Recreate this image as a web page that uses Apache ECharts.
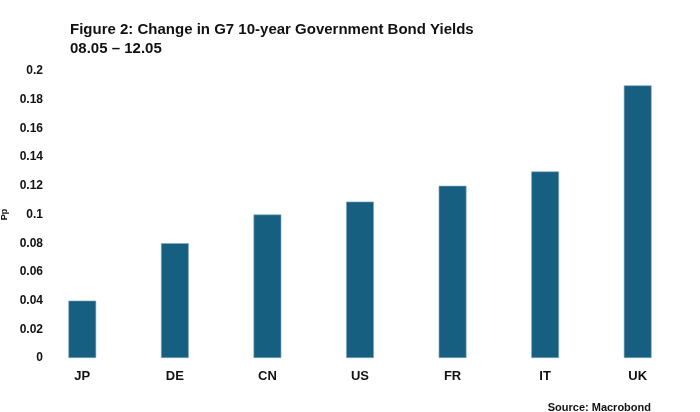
<!DOCTYPE html>
<html>
<head>
<meta charset="utf-8">
<script src="https://cdn.jsdelivr.net/npm/echarts@6/dist/echarts.min.js"></script>
<style>
  html, body { margin: 0; padding: 0; background: #fff; }
  #chart { width: 700px; height: 412px; }
</style>
</head>
<body>
<div id="chart"></div>
<script>
// country codes along the x axis
var countries = ["JP", "DE", "CN", "US", "FR", "IT", "UK"];
// change in 10y yield, percentage points
var changes = [0.04, 0.08, 0.10, 0.109, 0.12, 0.13, 0.19];
// y axis range
var yMin = 0, yMax = 0.2, yStep = 0.02;

var FONT = "Liberation Sans";

var chart = echarts.init(document.getElementById("chart"));

chart.setOption({
    animation: false,
    backgroundColor: "#fff",
    title: [{
        text: "Figure 2: Change in G7 10-year Government Bond Yields\n08.05 \u2013 12.05",
        left: 65,
        top: 15,
        textStyle: { fontFamily: FONT, fontSize: 15, fontWeight: "bold", color: "#111", lineHeight: 19 }
    }, {
        text: "Source: Macrobond",
        right: 44,
        bottom: -6,
        textStyle: { fontFamily: FONT, fontSize: 11, fontWeight: "bold", color: "#111" }
    }],
    grid: { left: 36, right: 16, top: 71, bottom: 54, outerBoundsMode: "none" },
    xAxis: {
        type: "category",
        data: countries,
        axisLine: { show: false },
        axisTick: { show: false },
        axisLabel: { margin: 12, fontFamily: FONT, fontSize: 13, fontWeight: "bold", color: "#111" }
    },
    yAxis: {
        type: "value",
        min: yMin,
        max: yMax,
        interval: yStep,
        name: "Pp",
        nameLocation: "middle",
        nameRotate: 90,
        nameGap: 21,
        nameTextStyle: { fontFamily: FONT, fontSize: 9, fontWeight: "bold", color: "#111" },
        splitLine: { show: false },
        axisLine: { show: false },
        axisTick: { show: false },
        axisLabel: {
            margin: -7, fontFamily: FONT, fontSize: 12, fontWeight: "bold", color: "#111",
            formatter: function (v) { return String(parseFloat(v.toFixed(2))); }
        }
    },
    series: [{
        type: "bar",
        data: changes,
        barWidth: "30%",
        itemStyle: { color: "#175f80", borderColor: "#7fa9bf", borderWidth: 0.6 }
    }]
});
</script>
</body>
</html>
